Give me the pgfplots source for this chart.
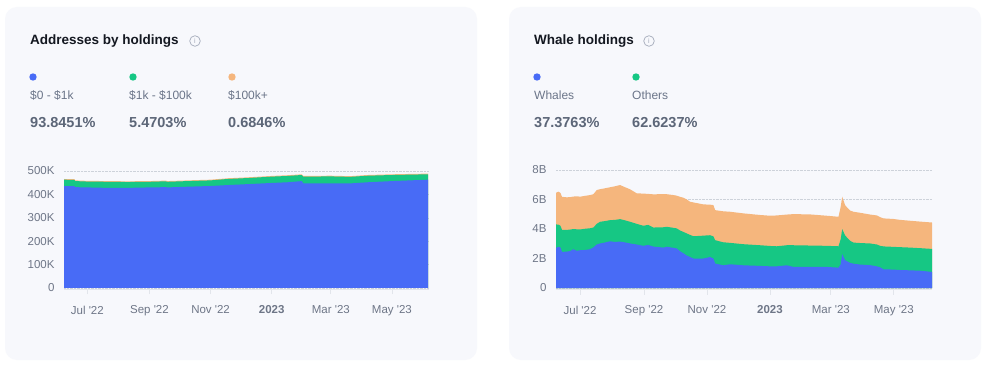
\documentclass[border=0pt]{standalone}
\usepackage{pgfplots}
\pgfplotsset{compat=1.18}
\usepackage{pgfplotstable}
\usepackage{fontspec}
\setmainfont{Liberation Sans}
\definecolor{cardbg}{HTML}{F7F8FC}
\definecolor{cblue}{HTML}{486BF6}
\definecolor{cgreen}{HTML}{16C784}
\definecolor{corange}{HTML}{F5B67D}
\definecolor{ctitle}{HTML}{141821}
\definecolor{clabel}{HTML}{6B7589}
\definecolor{cpct}{HTML}{5C6678}
\definecolor{ctick}{HTML}{6E7687}
\definecolor{cgrid}{HTML}{CDD2DA}
\definecolor{caxis}{HTML}{E2E5EB}
\definecolor{cicon}{HTML}{A3AABA}

% Addresses by holdings: day (0 = 1 Jul 2022), top of $0-$1k, top of $1k-$100k, top of $100k+ (stacked totals)
\pgfplotstableread{
d b g o
-23.3 436000 463000 466000
-13 435000 462000 465000
-12 431000 457000 460000
0 430000 455000 458000
20 428000 454000 457000
40 428000 453000 456000
62 430000 454000 457000
78 431000 456000 459000
80 430000 454000 457000
100 433000 457000 460000
123 436000 460000 463000
140 440000 466000 469000
160 444000 470000 473000
184 449000 476000 479000
200 452000 479000 482000
214 457000 483000 486000
215.5 447000 476000 479000
243 447000 477000 480000
262 447000 475000 478000
280 452000 480000 483000
304 457000 483000 486000
340 463000 486000 489000
}\addrtab

% Whale holdings (billions): day, top of whales, top of second layer, top of third layer
\pgfplotstableread{
d b g o
-23.3 2.72 4.31 6.46
-21 2.79 4.30 6.53
-19 2.75 4.22 6.45
-17.5 2.45 3.95 6.18
-13 2.47 3.94 6.15
-9.7 2.50 3.96 6.16
-6.5 2.63 4.00 6.20
-3.2 2.52 3.98 6.22
0 2.56 3.97 6.19
5 2.58 4.02 6.25
9.7 2.63 4.05 6.30
12.9 2.75 4.10 6.36
16.2 2.95 4.35 6.64
19.4 3.02 4.49 6.70
22.6 3.06 4.52 6.74
29.1 3.17 4.60 6.83
34 3.12 4.62 6.90
38.8 3.15 4.67 6.98
43 3.10 4.60 6.85
48.5 3.02 4.49 6.69
54.9 2.95 4.35 6.42
61.4 2.86 4.22 6.40
66 2.92 4.28 6.38
71.1 2.81 4.10 6.35
80.8 2.74 4.12 6.37
84 2.80 4.15 6.36
90.5 2.72 4.08 6.30
93.7 2.68 4.04 6.26
96.9 2.49 3.90 6.18
100.2 2.35 3.80 6.12
103.4 2.20 3.70 6.00
106.6 2.10 3.60 5.85
109.9 2.00 3.51 5.80
119.5 2.00 3.55 5.67
126 2.10 3.58 5.65
129.2 2.00 3.50 5.62
130.9 1.66 3.24 5.28
138.9 1.54 3.10 5.20
145.4 1.61 3.06 5.17
158.3 1.54 2.97 5.06
174.5 1.50 2.90 4.95
184.2 1.47 2.85 4.90
190.6 1.47 2.83 4.92
200.3 1.54 2.90 4.98
206.8 1.43 2.90 5.01
222.9 1.43 2.88 4.99
239.1 1.43 2.86 4.90
250.4 1.38 2.83 4.83
252.5 1.60 3.30 5.50
254 2.29 3.99 6.19
256.9 1.88 3.55 5.60
261.7 1.70 3.20 5.25
264.9 1.65 3.08 5.17
271.4 1.59 3.05 5.10
281.1 1.55 3.02 4.98
287.6 1.47 2.95 4.92
290.8 1.40 2.86 4.80
294 1.27 2.82 4.72
303.7 1.25 2.79 4.68
310 1.22 2.77 4.62
319.9 1.20 2.74 4.56
330 1.17 2.70 4.50
341.2 1.09 2.65 4.44
}\whaletab

\pgfplotsset{
  cardaxis/.style={
    scale only axis,
    anchor=south west,
    xmin=-23.3, xmax=341,
    axis x line*=bottom,
    axis y line*=left,
    y axis line style={draw=none},
    x axis line style={draw=caxis, line width=0.8pt},
    xtick={0,62,123,184,243,304},
    xticklabels={Jul \textquotesingle 22, Sep \textquotesingle 22, Nov \textquotesingle 22, \textbf{2023}, Mar \textquotesingle 23, May \textquotesingle 23},
    tick align=outside,
    xtick style={draw=caxis, line width=0.8pt, /pgfplots/major tick length=5pt},
    ytick style={draw=none},
    ymajorgrids,
    grid style={densely dotted, draw=cgrid, line width=0.6pt},
    tick label style={font=\fontsize{11.5}{13}\selectfont, text=ctick},
    xticklabel style={inner sep=0pt, yshift=-12pt},
    yticklabel style={inner sep=0pt, xshift=-5pt},
    clip=false,
  },
}

\begin{document}
\begin{tikzpicture}[x=1pt,y=1pt]
\useasboundingbox (0,0) rectangle (990,367);
\fill[white] (0,0) rectangle (990,367);
\fill[cardbg, rounded corners=12pt] (5,7) rectangle (477,360);
\fill[cardbg, rounded corners=12pt] (509,7) rectangle (981,360);

% ---- left card header
\node[anchor=base west, inner sep=0pt, text=ctitle, font=\fontsize{13.5}{16}\selectfont\bfseries] at (30,322) {Addresses by holdings};
\draw[cicon, line width=0.7pt] (195,326) circle (5.3);
\node[inner sep=0pt, text=cicon, font=\fontsize{7}{8}\selectfont] at (195,325.7) {i};
\fill[cblue] (33,290) circle (3.7);
\fill[cgreen] (133,290) circle (3.7);
\fill[corange] (232,290) circle (3.7);
\node[anchor=base west, inner sep=0pt, text=clabel, font=\fontsize{12}{14}\selectfont] at (30,267) {\$0 - \$1k};
\node[anchor=base west, inner sep=0pt, text=clabel, font=\fontsize{12}{14}\selectfont] at (129,267) {\$1k - \$100k};
\node[anchor=base west, inner sep=0pt, text=clabel, font=\fontsize{12}{14}\selectfont] at (228,267) {\$100k+};
\node[anchor=base west, inner sep=0pt, text=cpct, font=\fontsize{14.5}{16}\selectfont\bfseries] at (30,239.5) {93.8451\%};
\node[anchor=base west, inner sep=0pt, text=cpct, font=\fontsize{14.5}{16}\selectfont\bfseries] at (129,239.5) {5.4703\%};
\node[anchor=base west, inner sep=0pt, text=cpct, font=\fontsize{14.5}{16}\selectfont\bfseries] at (228,239.5) {0.6846\%};

% ---- right card header
\node[anchor=base west, inner sep=0pt, text=ctitle, font=\fontsize{13.5}{16}\selectfont\bfseries] at (534,322) {Whale holdings};
\draw[cicon, line width=0.7pt] (649,326) circle (5.3);
\node[inner sep=0pt, text=cicon, font=\fontsize{7}{8}\selectfont] at (649,325.7) {i};
\fill[cblue] (537,290) circle (3.7);
\fill[cgreen] (636,290) circle (3.7);
\node[anchor=base west, inner sep=0pt, text=clabel, font=\fontsize{12}{14}\selectfont] at (534,267) {Whales};
\node[anchor=base west, inner sep=0pt, text=clabel, font=\fontsize{12}{14}\selectfont] at (632,267) {Others};
\node[anchor=base west, inner sep=0pt, text=cpct, font=\fontsize{14.5}{16}\selectfont\bfseries] at (534,239.5) {37.3763\%};
\node[anchor=base west, inner sep=0pt, text=cpct, font=\fontsize{14.5}{16}\selectfont\bfseries] at (632,239.5) {62.6237\%};

% ---- left chart
\begin{axis}[cardaxis,
  at={(64pt,77.6pt)}, width=365pt, height=120.7pt,
  ymin=-6000, ymax=510000,
  ytick={0,100000,200000,300000,400000,500000},
  yticklabels={0,100K,200K,300K,400K,500K},
  scaled y ticks=false,
]
\addplot[fill=corange, draw=none] table[x=d, y=o] {\addrtab} \closedcycle;
\addplot[fill=cgreen, draw=none] table[x=d, y=g] {\addrtab} \closedcycle;
\addplot[fill=cblue, draw=none] table[x=d, y=b] {\addrtab} \closedcycle;
\end{axis}

% ---- right chart
\begin{axis}[cardaxis,
  at={(556pt,77.5pt)}, width=376pt, height=121.7pt,
  ymin=-0.1, ymax=8.15,
  ytick={0,2,4,6,8},
  yticklabels={0,2B,4B,6B,8B},
]
\addplot[fill=corange, draw=none] table[x=d, y=o] {\whaletab} \closedcycle;
\addplot[fill=cgreen, draw=none] table[x=d, y=g] {\whaletab} \closedcycle;
\addplot[fill=cblue, draw=none] table[x=d, y=b] {\whaletab} \closedcycle;
\end{axis}
\end{tikzpicture}
\end{document}
